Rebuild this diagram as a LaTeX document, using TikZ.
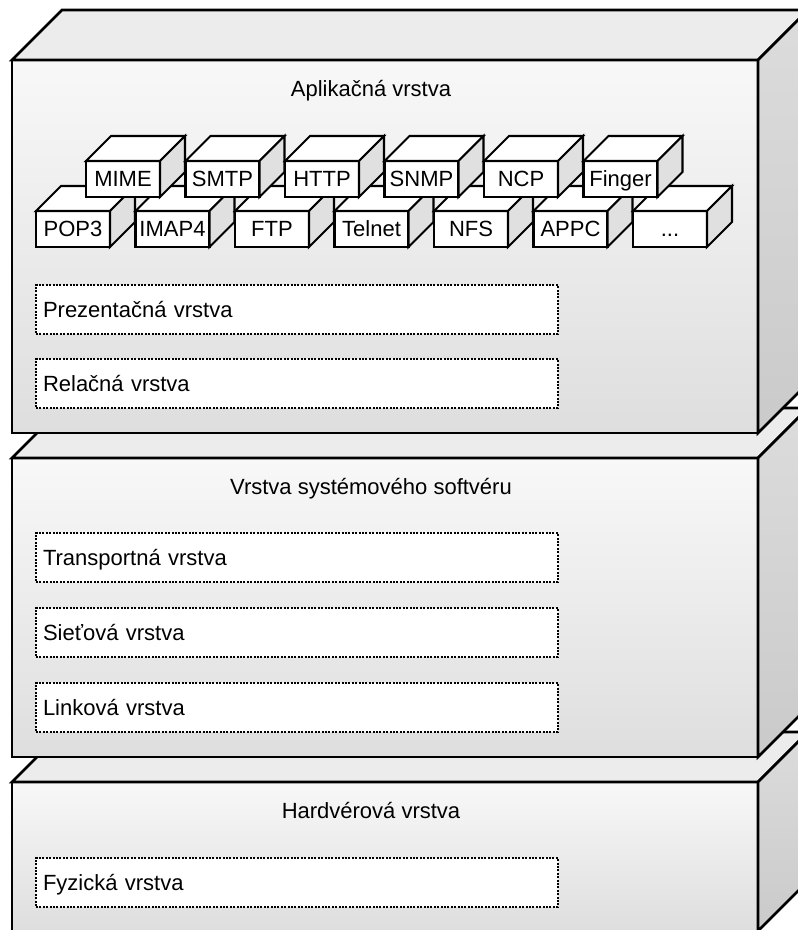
\documentclass[tikz,border=0pt]{standalone}
\usepackage{fontspec}
\setmainfont{Liberation Sans}
\definecolor{frontTop}{HTML}{F8F8F8}
\definecolor{frontBot}{HTML}{DEDEDE}
\definecolor{topFace}{HTML}{ECECEC}
\definecolor{sideTop}{HTML}{DCDCDC}
\definecolor{sideBot}{HTML}{CACACA}
\definecolor{cubeSide}{HTML}{E0E0E0}
\newcommand\mycube[4]{%
  \node[sfront] (#1) at (#2,#3) {#4};
  \draw[stopface] (#1.north west) -- ++(25,-25) -- ++(74,0) -- (#1.north east) -- cycle;
  \draw[ssideface] (#1.north east) -- ++(25,-25) -- ++(0,36) -- (#1.south east) -- cycle;
}
\newcommand\mylayer[3]{%
  \node[bigfront, minimum height=#3pt] (#1) at (12,#2) {};
  \draw[bigtop] (#1.north west) -- ++(50,-50) -- ++(746,0) -- (#1.north east) -- cycle;
  \draw[bigside] (#1.north east) -- ++(50,-50) -- ++(0,#3) -- (#1.south east) -- cycle;
}
\begin{document}
\begin{tikzpicture}[x=1pt,y=-1pt, line join=miter,
  bigfront/.style={draw=black,line width=2.6pt,top color=frontTop,bottom color=frontBot,minimum width=746pt,inner sep=0pt,outer sep=0pt,anchor=north west},
  bigtop/.style={draw=black,line width=2.6pt,fill=topFace},
  bigside/.style={draw=black,line width=2.6pt,top color=sideTop,bottom color=sideBot},
  title/.style={font=\fontsize{22}{26}\selectfont, inner sep=0pt, anchor=base},
  dotbox/.style={draw=black,line width=2.2pt,dash pattern=on 2pt off 1.4pt,fill=white,anchor=north west,minimum height=49pt,text width=508pt,inner xsep=7pt,inner ysep=0pt,outer sep=0pt,align=left,text height=15.8pt,text depth=0pt,font=\fontsize{22}{26}\selectfont},
  sfront/.style={draw=black,line width=2.1pt,fill=white,minimum width=74pt,minimum height=36pt,inner sep=0pt,outer sep=0pt,text height=15.8pt,text depth=0pt,font=\fontsize{22}{26}\selectfont},
  stopface/.style={draw=black,line width=2.1pt,fill=white},
  ssideface/.style={draw=black,line width=2.1pt,fill=cubeSide}]
\useasboundingbox (0,0) rectangle (798,930);
\clip (0,0) rectangle (798,930);

% layers, bottom first
\mylayer{hw}{782}{149}
\mylayer{sys}{458}{299}
\mylayer{app}{60}{373}

% titles
\node[title] (appt) at (371,96.5) {Aplikačná vrstva};
\node[title] (syst) at (371,494) {Vrstva systémového softvéru};
\node[title] (hwt) at (371,818) {Hardvérová vrstva};

% application protocols, lower row
\mycube{b1}{73}{229}{POP3}
\mycube{b2}{172.5}{229}{IMAP4}
\mycube{b3}{272}{229}{FTP}
\mycube{b4}{371.5}{229}{Telnet}
\mycube{b5}{471}{229}{NFS}
\mycube{b6}{570.5}{229}{APPC}
\mycube{b7}{670}{229}{...}
% upper row
\mycube{t1}{123}{179}{MIME}
\mycube{t2}{222.5}{179}{SMTP}
\mycube{t3}{322}{179}{HTTP}
\mycube{t4}{421.5}{179}{SNMP}
\mycube{t5}{521}{179}{NCP}
\mycube{t6}{620.5}{179}{Finger}

% sublayers
\node[dotbox] (prez) at (36,285) {Prezentačná vrstva};
\node[dotbox] (rel) at (36,359) {Relačná vrstva};
\node[dotbox] (trans) at (36,533) {Transportná vrstva};
\node[dotbox] (siet) at (36,608) {Sieťová vrstva};
\node[dotbox] (link) at (36,683) {Linková vrstva};
\node[dotbox] (fyz) at (36,858) {Fyzická vrstva};
\end{tikzpicture}
\end{document}
